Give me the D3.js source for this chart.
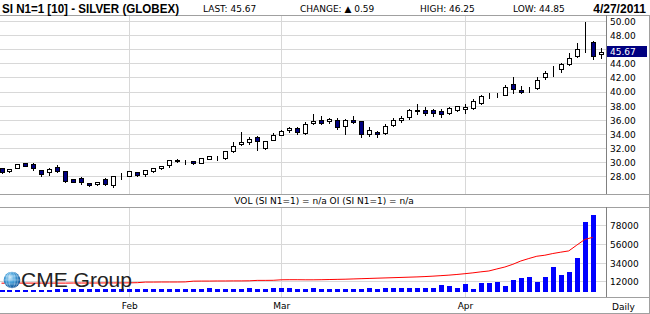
<!DOCTYPE html>
<html>
<head>
<meta charset="utf-8">
<script src="https://cdn.jsdelivr.net/npm/d3@7"></script>
<style>
body { margin: 0; background: #fff; }
svg { display: block; }
text { font-family: "DejaVu Sans", Verdana, sans-serif; font-size: 9px; fill: #000; }
</style>
</head>
<body>
<svg id="chart"></svg>
<script>
// trading days shown (Jan 7 - Apr 27, 2011)
const dates = [
  '01-07','01-10','01-11','01-12','01-13','01-14','01-18','01-19','01-20','01-21','01-24','01-25','01-26','01-27','01-28','01-31',
  '02-01','02-02','02-03','02-04','02-07','02-08','02-09','02-10','02-11','02-14','02-15','02-16','02-17','02-18','02-22','02-23','02-24','02-25','02-28',
  '03-01','03-02','03-03','03-04','03-07','03-08','03-09','03-10','03-11','03-14','03-15','03-16','03-17','03-18','03-21','03-22','03-23','03-24','03-25','03-28','03-29','03-30','03-31',
  '04-01','04-04','04-05','04-06','04-07','04-08','04-11','04-12','04-13','04-14','04-15','04-18','04-19','04-20','04-21','04-25','04-26','04-27'
];

const open = [29.16,28.73,29.20,29.87,29.73,28.82,28.54,29.30,28.68,27.60,27.74,27.03,26.83,27.60,26.65,28.08,
  28.07,28.59,28.31,28.73,29.16,29.63,30.30,29.99,30.20,29.87,30.48,30.64,30.58,31.52,32.57,32.86,33.57,32.00,33.18,
  33.89,34.51,34.85,34.14,35.56,35.98,35.79,35.93,35.17,35.93,35.84,33.99,34.28,34.14,35.27,35.93,36.41,37.30,37.31,37.31,37.26,36.98,37.31,
  37.55,37.69,38.40,39.44,39.60,39.58,41.10,40.25,40.16,40.53,42.04,43.00,43.23,43.94,45.02,47.13,47.11,45.37];
const high = [29.25,29.08,29.72,29.92,29.87,28.86,29.25,29.63,28.72,27.66,27.92,27.08,27.22,27.74,28.12,28.49,
  28.68,28.64,28.96,29.25,29.55,30.40,30.53,30.30,30.25,30.60,30.86,30.95,31.68,32.94,34.32,33.65,33.75,33.05,34.14,
  34.61,35.07,34.99,35.74,36.88,36.60,36.27,36.27,36.13,36.60,35.90,35.07,34.51,35.46,36.27,36.60,37.55,38.26,37.92,37.59,37.63,37.92,37.97,
  38.26,38.97,39.58,39.82,39.91,41.00,42.18,40.90,40.76,42.18,42.99,43.70,44.17,45.59,46.93,50.00,47.30,46.25];
const low = [28.50,28.68,29.15,29.45,28.92,28.11,28.17,28.62,27.20,27.15,26.89,26.60,26.78,26.74,26.46,27.68,
  28.02,28.12,28.02,28.68,29.10,29.35,30.01,29.73,29.78,29.85,30.43,30.34,30.52,31.47,32.43,32.57,31.76,31.95,33.12,
  33.84,34.32,34.08,34.08,35.50,35.50,35.60,34.70,34.08,35.58,33.65,33.75,33.65,34.08,35.22,35.74,36.21,36.84,36.74,36.60,36.50,36.92,37.26,
  37.06,37.64,38.26,39.20,39.34,39.52,39.82,39.82,40.01,40.47,41.86,42.32,42.85,43.88,44.97,45.74,44.66,44.85];
const close = [28.59,29.02,29.67,29.49,29.16,28.31,29.02,28.68,27.26,27.21,27.11,26.74,27.17,26.89,28.07,28.14,
  28.64,28.17,28.82,29.20,29.49,30.34,30.16,30.03,29.82,30.58,30.81,30.69,31.62,32.33,32.90,33.28,33.00,33.00,33.85,
  34.42,34.89,34.22,35.46,35.88,35.56,36.13,34.99,35.98,35.64,33.99,34.51,33.99,35.17,35.93,36.31,37.31,37.36,36.98,36.92,36.84,37.63,37.92,
  37.87,38.63,39.34,39.30,39.65,40.68,40.43,39.96,40.22,41.71,42.67,43.06,43.89,44.74,46.08,47.19,45.08,45.67];

// volume bars (blue) and open interest (red line), last day n/a
const volume = [2000,2300,2100,2600,2400,2900,2700,3300,3600,3800,3500,3200,3400,3900,3700,3500,
  3900,3700,4000,3500,3700,3900,4000,3800,3600,3900,4600,3900,4000,3700,4000,4300,3900,4000,4200,
  4400,5200,4100,4000,4300,3900,3000,3900,3900,3900,3900,5300,3000,5300,4800,5300,4800,5300,5300,5300,7700,6900,5300,
  9300,3900,10100,11000,11500,6500,13700,16000,17200,11500,17200,29100,20000,23200,40000,82300,90600,null];
const openInt = [10400,10400,10500,10500,10500,10500,10500,10500,10500,10600,10600,10600,10600,10700,10700,10700,
  10800,11000,11700,11700,11800,11800,11800,11900,12800,12900,12900,13000,13000,13100,13100,13200,13700,13700,13800,
  14400,14500,14500,14400,14400,14500,14700,14900,15100,15400,15700,16000,16300,16600,16900,17200,17500,17800,18200,18700,19300,19900,20700,
  21600,22600,23800,24800,27200,29500,32700,36600,39500,42200,43400,45400,47000,48500,55300,62000,64500,null];

const priceTicks = [28,30,32,34,36,38,40,42,44,46,48,50];
const priceLabels = [28,30,32,34,36,38,40,42,44,48,50];   // 46.00 sits under the last-price box
const volTicks = [12000,34000,56000,78000];
const monthDates = ['02-01','03-01','04-01'];
const monthNames = ['Feb','Mar','Apr'];
const lastPrice = 45.67;

const width = 650, height = 314;
const axisX = 606;

const svg = d3.select('#chart').attr('width', width).attr('height', height);

const x = d3.scalePoint().domain(dates).range([1.5, 600.75]);
const yPrice = d3.scaleLinear().domain([28, 50]).range([176.5, 21.7]);
const yVol = d3.scaleLinear().domain([0, 78000]).range([292, 225.9]);
const snap = v => Math.floor(v) + 0.5;
const px = d => Math.round(x(d)) + 0.5;

// gridlines
const grid = svg.append('g').attr('stroke', '#d8d8d8').attr('shape-rendering', 'crispEdges');
grid.selectAll('.hp').data(priceTicks).enter().append('line')
    .attr('x1', 0).attr('x2', axisX)
    .attr('y1', d => snap(yPrice(d))).attr('y2', d => snap(yPrice(d)));
grid.selectAll('.hv').data(volTicks).enter().append('line')
    .attr('x1', 0).attr('x2', axisX)
    .attr('y1', d => snap(yVol(d))).attr('y2', d => snap(yVol(d)));
monthDates.forEach(m => {
    grid.append('line').attr('x1', px(m)).attr('x2', px(m)).attr('y1', 15).attr('y2', 194);
    grid.append('line').attr('x1', px(m)).attr('x2', px(m)).attr('y1', 207).attr('y2', 297);
});

// frame
const frame = svg.append('g').attr('stroke', '#a0a0a0').attr('shape-rendering', 'crispEdges');
[15.5, 194.5, 207.5, 297.5, 313.5].forEach(y =>
    frame.append('line').attr('x1', 0).attr('x2', width).attr('y1', y).attr('y2', y));
frame.append('line').attr('x1', 649.5).attr('x2', 649.5).attr('y1', 15).attr('y2', 314);
frame.append('line').attr('x1', axisX + 0.5).attr('x2', axisX + 0.5).attr('y1', 15).attr('y2', 194).attr('stroke', '#808080');
frame.append('line').attr('x1', axisX + 0.5).attr('x2', axisX + 0.5).attr('y1', 207).attr('y2', 297).attr('stroke', '#808080');

// candles
const candles = svg.append('g').selectAll('g').data(dates).enter().append('g');
candles.append('line')
    .attr('x1', d => px(d)).attr('x2', d => px(d))
    .attr('y1', (d, i) => Math.round(yPrice(high[i]))).attr('y2', (d, i) => Math.round(yPrice(low[i])) + 1)
    .attr('stroke', '#000');
candles.append('rect')
    .attr('x', d => px(d) - 2)
    .attr('width', 4)
    .attr('y', (d, i) => snap(yPrice(Math.max(open[i], close[i]))))
    .attr('height', (d, i) => Math.max(0, snap(yPrice(Math.min(open[i], close[i]))) - snap(yPrice(Math.max(open[i], close[i])))))
    .attr('fill', (d, i) => close[i] >= open[i] ? '#fff' : '#000080')
    .attr('stroke', '#000')
    .attr('shape-rendering', 'crispEdges');

// volume bars
svg.append('g').selectAll('rect').data(dates.filter((d, i) => volume[i] != null)).enter().append('rect')
    .attr('x', d => px(d) - 2.5)
    .attr('width', 5)
    .attr('y', (d, i) => Math.round(yVol(volume[i])))
    .attr('height', (d, i) => 292 - Math.round(yVol(volume[i])))
    .attr('fill', '#0000ff');

// open interest line
const oiLine = d3.line()
    .defined((d, i) => openInt[i] != null)
    .x(d => x(d))
    .y((d, i) => yVol(openInt[i]));
svg.append('path').datum(dates).attr('d', oiLine)
    .attr('fill', 'none').attr('stroke', '#ff0000').attr('stroke-width', 1);

// price axis labels
const priceAxis = d3.axisRight(yPrice).tickValues(priceLabels).tickFormat(d3.format('.2f')).tickSize(0).tickPadding(4);
const pa = svg.append('g').attr('transform', `translate(${axisX},0)`).call(priceAxis);
pa.select('.domain').remove();
pa.selectAll('text').attr('font-family', '"DejaVu Sans", sans-serif').attr('font-size', 9).attr('fill', '#000');

// last price marker
svg.append('rect').attr('x', 607).attr('y', Math.round(yPrice(lastPrice)) - 6)
    .attr('width', 40).attr('height', 11).attr('fill', '#000080');
svg.append('text').attr('x', 610).attr('y', yPrice(lastPrice)).attr('dy', '0.32em')
    .style('fill', '#fff').text(lastPrice.toFixed(2));

// volume axis labels
const volAxis = d3.axisRight(yVol).tickValues(volTicks).tickFormat(d3.format('d')).tickSize(0).tickPadding(4);
const va = svg.append('g').attr('transform', `translate(${axisX},0)`).call(volAxis);
va.select('.domain').remove();
va.selectAll('text').attr('font-family', '"DejaVu Sans", sans-serif').attr('font-size', 9).attr('fill', '#000');

// month axis
const monthAxis = d3.axisBottom(x).tickValues(monthDates)
    .tickFormat(d => monthNames[monthDates.indexOf(d)]).tickSize(0).tickPadding(3);
const ma = svg.append('g').attr('transform', 'translate(0,300)').call(monthAxis);
ma.select('.domain').remove();
ma.selectAll('text').attr('font-family', '"DejaVu Sans", sans-serif').attr('font-size', 9).attr('fill', '#000');
svg.append('text').attr('x', 612).attr('y', 309.5).text('Daily');

// volume panel caption
svg.append('text').attr('x', 324).attr('y', 204).attr('text-anchor', 'middle')
    .text('VOL (SI N1=1) = n/a OI (SI N1=1) = n/a');

// header
svg.append('text').attr('x', 2).attr('y', 12.5)
    .style('font-family', '"Liberation Sans", Arial, sans-serif').style('font-size', '12px').style('font-weight', 'bold')
    .attr('textLength', 177).attr('lengthAdjust', 'spacingAndGlyphs')
    .text('SI N1=1 [10] - SILVER (GLOBEX)');
svg.append('text').attr('x', 203).attr('y', 12).text('LAST: 45.67');
svg.append('text').attr('x', 300).attr('y', 12).text('CHANGE: \u25B2 0.59');
svg.append('text').attr('x', 420).attr('y', 12).text('HIGH: 46.25');
svg.append('text').attr('x', 513).attr('y', 12).text('LOW: 44.85');
svg.append('text').attr('x', 646).attr('y', 12.5).attr('text-anchor', 'end')
    .style('font-family', '"Liberation Sans", Arial, sans-serif').style('font-size', '12px').style('font-weight', 'bold')
    .text('4/27/2011');

// CME Group logo
const defs = svg.append('defs');
const grad = defs.append('radialGradient').attr('id', 'globe').attr('cx', '40%').attr('cy', '35%').attr('r', '65%');
grad.append('stop').attr('offset', '0%').attr('stop-color', '#cfeaf9');
grad.append('stop').attr('offset', '45%').attr('stop-color', '#4aa3dc');
grad.append('stop').attr('offset', '100%').attr('stop-color', '#0b4f94');
const logo = svg.append('g');
logo.append('circle').attr('cx', 12).attr('cy', 280).attr('r', 8.3).attr('fill', 'url(#globe)');
[-4, 0, 4].forEach(dy => logo.append('line').attr('x1', 4).attr('x2', 20).attr('y1', 280 + dy).attr('y2', 280 + dy)
    .attr('stroke', '#fff').attr('stroke-opacity', 0.45).attr('stroke-width', 0.7));
[3, 6].forEach(rx => logo.append('ellipse').attr('cx', 12).attr('cy', 280).attr('rx', rx).attr('ry', 8.3)
    .attr('fill', 'none').attr('stroke', '#fff').attr('stroke-opacity', 0.45).attr('stroke-width', 0.7));
logo.append('text').attr('x', 21).attr('y', 287)
    .style('font-family', '"Liberation Sans", Arial, sans-serif').style('font-size', '20px').style('fill', '#222')
    .attr('textLength', 111).attr('lengthAdjust', 'spacingAndGlyphs')
    .text('CME Group');
</script>
</body>
</html>
